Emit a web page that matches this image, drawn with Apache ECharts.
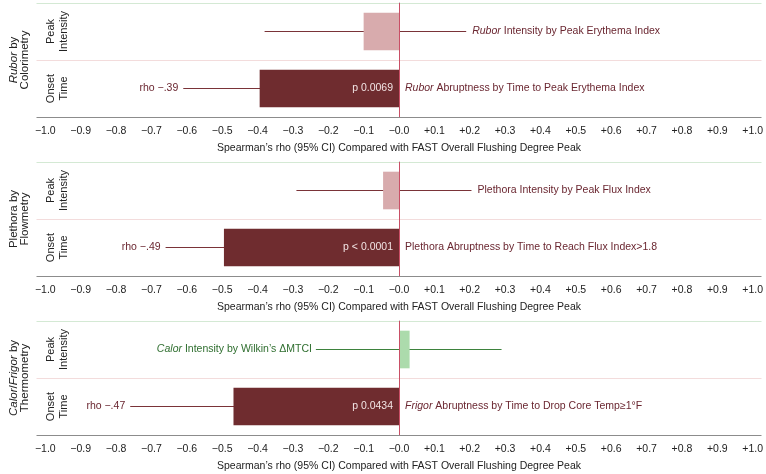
<!DOCTYPE html>
<html>
<head>
<meta charset="utf-8">
<script src="https://cdn.jsdelivr.net/npm/echarts@6/dist/echarts.min.js"></script>
<style>
  html, body { margin: 0; padding: 0; background: #fff; }
  #chart { width: 766px; height: 474px; }
</style>
</head>
<body>
<div id="chart"></div>
<script>
// categories bottom -> top
const categories = ['Onset\nTime', 'Peak\nIntensity'];
const panelTitles = ['{i|Rubor} by\nColorimetry', 'Plethora by\nFlowmetry', '{i|Calor}/{i|Frigor} by\nThermometry'];
const axisTitle = 'Spearman’s rho (95% CI) Compared with FAST Overall Flushing Degree Peak';
const tickValues = [-1.0, -0.9, -0.8, -0.7, -0.6, -0.5, -0.4, -0.3, -0.2, -0.1, 0,
  0.1, 0.2, 0.3, 0.4, 0.5, 0.6, 0.7, 0.8, 0.9, 1.0];
const tickLabels = ['−1.0', '−0.9', '−0.8', '−0.7', '−0.6', '−0.5', '−0.4', '−0.3', '−0.2', '−0.1', '−0.0',
  '+0.1', '+0.2', '+0.3', '+0.4', '+0.5', '+0.6', '+0.7', '+0.8', '+0.9', '+1.0'];

// [Onset, Peak]
const rhoRubor = [-0.394, -0.10];
const lowRubor = [-0.61, -0.38];
const highRubor = [-0.13, 0.19];
const pRubor = ['p 0.0069', ''];
const rhoTextRubor = ['rho −.39', ''];
const labelRubor = ['{i|Rubor} Abruptness by Time to Peak Erythema Index', '{i|Rubor} Intensity by Peak Erythema Index'];

const rhoPlethora = [-0.495, -0.045];
const lowPlethora = [-0.66, -0.29];
const highPlethora = [-0.27, 0.205];
const pPlethora = ['p < 0.0001', ''];
const rhoTextPlethora = ['rho −.49', ''];
const labelPlethora = ['Plethora Abruptness by Time to Reach Flux Index>1.8', 'Plethora Intensity by Peak Flux Index'];

const rhoCalor = [-0.468, 0.03];
const lowCalor = [-0.76, -0.235];
const highCalor = [-0.02, 0.29];
const pCalor = ['p 0.0434', ''];
const rhoTextCalor = ['rho −.47', ''];
const labelCalor = ['{i|Frigor} Abruptness by Time to Drop Core Temp≥1°F', '{i|Calor} Intensity by Wilkin’s ΔMTCI'];

const F = '"Liberation Sans", Arial, sans-serif';
const FS = 10.5;
const maroon = { bar: '#6f2c2f', line: '#7a3338', text: '#6a2630' };
const pink = { bar: '#d8abad', line: '#7a3338', text: '#6a2630' };
const green = { bar: '#acdbac', line: '#3d823d', text: '#2f6e2f' };

const tops = [3, 162, 321];
const plotH = 114;

function makeSeries(i, rho, low, high, pText, rhoText, labels, colors) {
  return {
    type: 'custom',
    xAxisIndex: i,
    yAxisIndex: i,
    data: rho.map((r, k) => [k, r, low[k], high[k]]),
    renderItem(params, api) {
      const k = api.value(0);
      const r = api.value(1), lo = api.value(2), hi = api.value(3);
      const zero = api.coord([0, k]);
      const x0 = zero[0], y = zero[1];
      const xr = api.coord([r, k])[0];
      const xlo = api.coord([lo, k])[0];
      const xhi = api.coord([hi, k])[0];
      const bh = api.size([0, 1])[1] * 0.66;
      const c = colors[k];
      const font = FS + 'px ' + F;
      const rich = { i: { font: 'italic ' + FS + 'px ' + F, fill: c.text } };
      const kids = [
        { type: 'line', shape: { x1: xlo, y1: y, x2: xhi, y2: y }, style: { stroke: c.line, lineWidth: 1 } },
        { type: 'rect', shape: { x: Math.min(x0, xr), y: y - bh / 2, width: Math.abs(xr - x0), height: bh }, style: { fill: c.bar } }
      ];
      // main label sits past the CI / zero line, on the side away from the bar
      if (r < 0) {
        kids.push({ type: 'text', style: { text: labels[k], x: Math.max(x0, xhi) + 6, y: y, font: font, fill: c.text, rich: rich, align: 'left', verticalAlign: 'middle' } });
      } else {
        kids.push({ type: 'text', style: { text: labels[k], x: Math.min(x0, xlo) - 4, y: y, font: font, fill: c.text, rich: rich, align: 'right', verticalAlign: 'middle' } });
      }
      if (pText[k]) {
        kids.push({ type: 'text', style: { text: pText[k], x: x0 - 6, y: y, font: font, fill: '#f2e4e4', align: 'right', verticalAlign: 'middle' } });
      }
      if (rhoText[k]) {
        kids.push({ type: 'text', style: { text: rhoText[k], x: xlo - 5, y: y, font: font, fill: c.text, align: 'right', verticalAlign: 'middle' } });
      }
      return { type: 'group', children: kids };
    },
    markLine: {
      silent: true,
      symbol: 'none',
      label: { show: false },
      lineStyle: { color: '#c94f66', width: 1, type: 'solid' },
      data: [{ xAxis: 0 }]
    }
  };
}

const chart = echarts.init(document.getElementById('chart'), null, { renderer: 'canvas' });

const grids = tops.map(t => ({ left: 35, right: 3, top: t, height: plotH }));
const xAxes = tops.map((t, i) => ({
  gridIndex: i,
  type: 'value',
  min: -1.025,
  max: 1.025,
  axisLine: { lineStyle: { color: '#8c8c8c', width: 1 } },
  axisTick: { customValues: tickValues, length: 4, lineStyle: { color: '#8c8c8c' } },
  axisLabel: {
    customValues: tickValues,
    margin: 9,
    fontFamily: F,
    fontSize: FS,
    color: '#222',
    formatter: v => tickLabels[tickValues.findIndex(t => Math.abs(t - v) < 1e-6)]
  },
  splitLine: { show: false },
  name: axisTitle,
  nameLocation: 'middle',
  nameGap: 26,
  nameTextStyle: { fontFamily: F, fontSize: FS, color: '#222' }
}));
const yAxes = tops.map((t, i) => ({
  gridIndex: i,
  type: 'category',
  data: categories,
  axisLine: { lineStyle: { color: '#8c8c8c' } },
  axisTick: { show: false },
  axisLabel: {
    inside: true,
    interval: 0,
    rotate: 90,
    margin: 8,
    fontFamily: F,
    fontSize: 11,
    lineHeight: 13,
    color: '#222'
  },
  splitLine: { show: true, lineStyle: { color: ['#8c8c8c', '#f3dcdc', '#d4e9d4'], width: 1 } },
  name: panelTitles[i],
  nameLocation: 'middle',
  nameRotate: 90,
  nameGap: 6,
  nameTextStyle: {
    fontFamily: F,
    fontSize: 11.5,
    lineHeight: 11,
    color: '#222',
    rich: { i: { fontStyle: 'italic', fontFamily: F, fontSize: 11.5, lineHeight: 11 } }
  }
}));

chart.setOption({
  animation: false,
  grid: grids,
  xAxis: xAxes,
  yAxis: yAxes,
  series: [
    makeSeries(0, rhoRubor, lowRubor, highRubor, pRubor, rhoTextRubor, labelRubor, [maroon, pink]),
    makeSeries(1, rhoPlethora, lowPlethora, highPlethora, pPlethora, rhoTextPlethora, labelPlethora, [maroon, pink]),
    makeSeries(2, rhoCalor, lowCalor, highCalor, pCalor, rhoTextCalor, labelCalor, [maroon, green])
  ]
});
</script>
</body>
</html>
